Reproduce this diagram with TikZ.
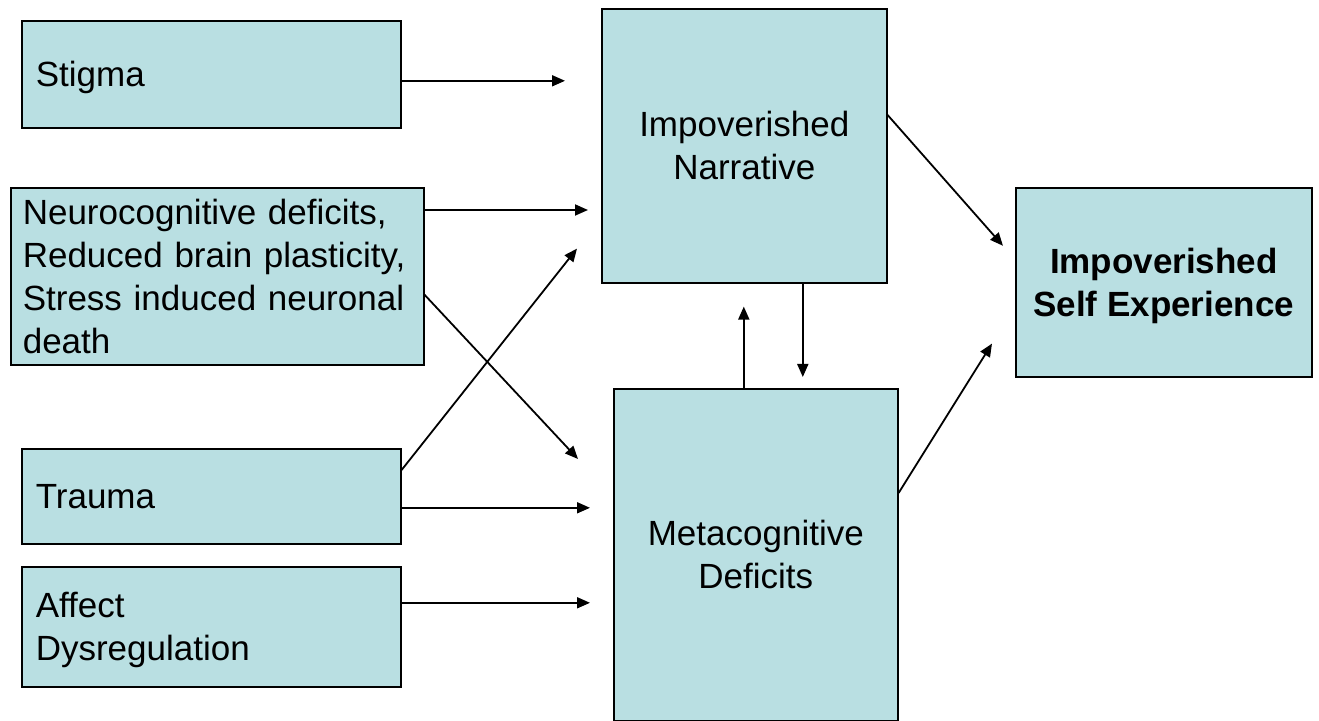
\documentclass[tikz,border=0pt]{standalone}
\usepackage{fontspec}
\setmainfont{Liberation Sans}
\usepackage{tikz}
\usetikzlibrary{arrows,arrows.meta,calc}
\definecolor{boxblue}{RGB}{185,223,226}
\tikzset{main node/.style={rectangle,fill=boxblue,draw,thick,inner sep=0pt,align=center,anchor=north west},
}
% line without its descender depth
\newcommand{\nodp}[1]{\raisebox{0pt}[\height][0pt]{#1}}

\begin{document}
\begin{tikzpicture}[x=0.5pt,y=-0.5pt,>={Triangle[length=6.5pt,width=5.5pt]},thick,
		font=\fontsize{17.5}{21.5}\selectfont,
		cause node/.style={main node,align=left,inner xsep=7pt,minimum width=189.5pt,text width=175.5pt}]
		
		\useasboundingbox (0,0) rectangle (1319,721);
		
		\node[cause node,minimum height=53.5pt] (stigma) at (21,20) {\nodp{Stigma}};
		\node[cause node,inner xsep=6pt,minimum width=206.5pt,text width=194.5pt,minimum height=88.5pt] (neuro) at (10,187)
		{Neurocognitive deficits,\\Reduced brain plasticity,\\Stress induced neuronal\\death};
		\node[cause node,minimum height=47.5pt] (trauma) at (21,448) {Trauma};
		\node[cause node,minimum height=60pt] (affect) at (21,566) {Affect\\\nodp{Dysregulation}};
		\node[main node,minimum width=142.5pt,minimum height=137pt] (narr) at (601,8) {Impoverished\\Narrative};
		\node[main node,minimum width=142pt,minimum height=166pt] (meta) at (613,388) {Metacognitive\\Deficits};
		\node[main node,minimum width=148pt,minimum height=94.5pt,text depth=0pt,font=\fontsize{17.5}{21.5}\selectfont\bfseries] (self) at (1015,187)
		{Impoverished\\Self Experience};
		
		
		\draw[->,line width=0.9pt] ($(stigma.east)+(0,6.5)$) -- ($(stigma.east -| narr.west)+(-36,6.5)$);
		\draw[->,line width=0.9pt] ($(neuro.north east)+(0,23)$) -- ($(neuro.north east -| narr.west)+(-13,23)$);
		\draw[->,line width=0.9pt] ($(neuro.east)+(0,18.5)$) -- ($(meta.north west)+(-35,71)$);
		\draw[->,line width=0.9pt] ($(trauma.north east)+(0,22)$) -- ($(narr.south west)+(-24,-35)$);
		\draw[->,line width=0.9pt] ($(trauma.east)+(0,11.5)$) -- ($(trauma.east -| meta.west)+(-23,11.5)$);
		\draw[->,line width=0.9pt] ($(affect.east)+(0,-24)$) -- ($(affect.east -| meta.west)+(-23,-24)$);
		\draw[->,line width=0.9pt] ($(narr.north east)+(0,107)$) -- ($(self.west)+(-12,-36.5)$);
		\draw[->,line width=0.9pt] ($(meta.north east)+(0,105)$) -- ($(self.south west)+(-23,-34)$);
		\draw[->,line width=0.9pt] ($(narr.south)+(58.5,0)$) -- ($(meta.north)+(47,-11)$);
		\draw[->,line width=0.9pt] ($(meta.north)+(-12,0)$) -- ($(narr.south)+(-0.5,23)$);
		\end{tikzpicture}
\end{document}
